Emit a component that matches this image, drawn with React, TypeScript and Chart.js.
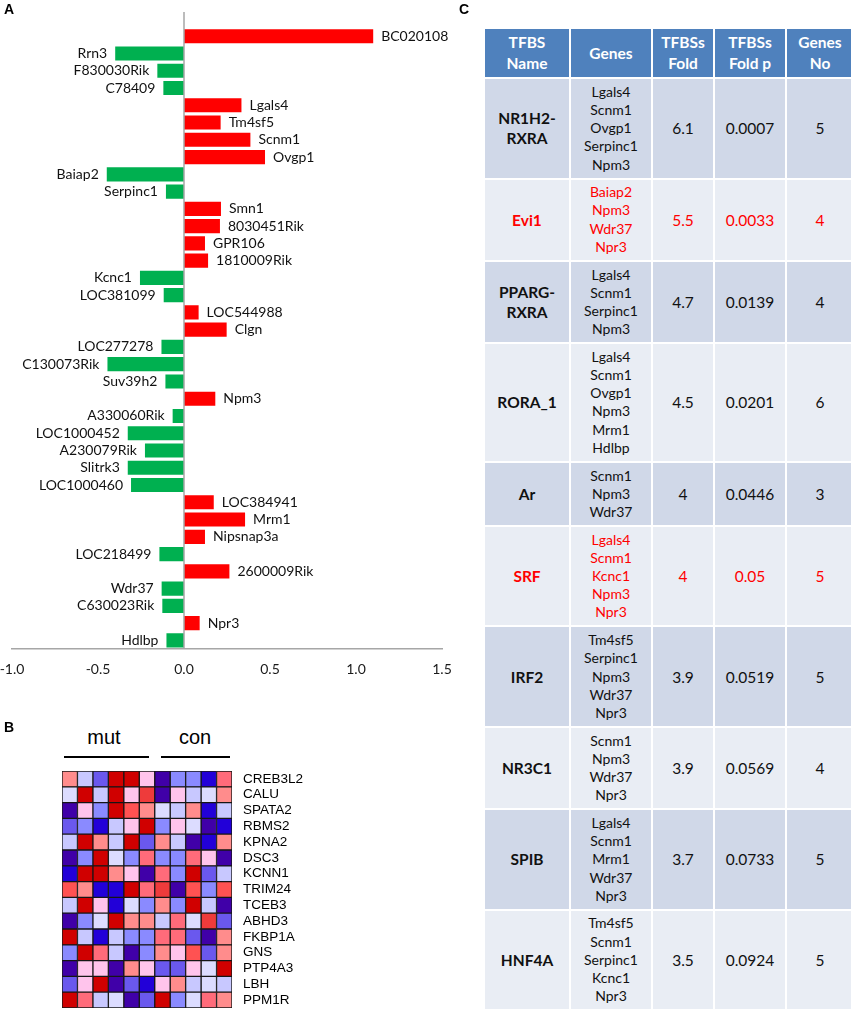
import React, { useEffect, useRef } from 'react';
import { Chart, registerables } from 'chart.js';
Chart.register(...registerables);

// ---------- Panel A data ----------
const genes = [
  'BC020108', 'Rrn3', 'F830030Rik', 'C78409', 'Lgals4', 'Tm4sf5', 'Scnm1', 'Ovgp1',
  'Baiap2', 'Serpinc1', 'Smn1', '8030451Rik', 'GPR106', '1810009Rik', 'Kcnc1', 'LOC381099',
  'LOC544988', 'Clgn', 'LOC277278', 'C130073Rik', 'Suv39h2', 'Npm3', 'A330060Rik', 'LOC1000452',
  'A230079Rik', 'Slitrk3', 'LOC1000460', 'LOC384941', 'Mrm1', 'Nipsnap3a', 'LOC218499', '2600009Rik',
  'Wdr37', 'C630023Rik', 'Npr3', 'Hdlbp',
];
const logFold = [
  1.10, -0.40, -0.155, -0.12, 0.334, 0.213, 0.386, 0.471,
  -0.449, -0.105, 0.215, 0.209, 0.122, 0.14, -0.256, -0.118,
  0.085, 0.248, -0.131, -0.445, -0.108, 0.182, -0.066, -0.327,
  -0.227, -0.327, -0.308, 0.173, 0.355, 0.122, -0.143, 0.264,
  -0.13, -0.126, 0.091, -0.102,
];
const xTicks = [-1.0, -0.5, 0.0, 0.5, 1.0, 1.5];

// ---------- Panel B data ----------
const heatGenes = [
  'CREB3L2', 'CALU', 'SPATA2', 'RBMS2', 'KPNA2', 'DSC3', 'KCNN1', 'TRIM24',
  'TCEB3', 'ABHD3', 'FKBP1A', 'GNS', 'PTP4A3', 'LBH', 'PPM1R',
];
const heatSamples = ['mut1', 'mut2', 'mut3', 'mut4', 'mut5', 'mut6', 'con1', 'con2', 'con3', 'con4', 'con5'];
const heatValues = [
  [1.0, -0.5, -1.4, 2.0, 2.0, 0.4, -2.0, -1.0, -1.0, -1.8, 1.2],
  [-0.3, 2.0, -0.5, 2.0, 0.4, 1.6, -2.0, 0.4, -0.5, -0.3, 1.0],
  [-2.0, 0.4, -1.0, 2.0, 1.4, 1.0, -0.3, -0.5, 1.0, -1.8, -0.5],
  [-1.4, -1.0, -1.8, -0.5, 0.4, 2.0, -1.0, 0.4, -0.3, -2.0, -1.8],
  [-0.5, 2.0, 1.0, -0.5, 2.0, -1.4, 1.0, -0.5, -2.0, -1.8, 1.0],
  [-2.0, -1.0, 2.0, -0.3, -1.0, 1.2, -1.0, -1.0, 1.2, 0.4, -2.0],
  [-1.8, 2.0, 2.0, 1.0, 0.4, -2.0, 1.2, -1.0, 2.0, -1.4, -0.5],
  [1.4, 1.0, -1.8, -1.8, 2.0, 1.2, 1.6, -2.0, 1.4, -1.0, 1.4],
  [-0.5, 2.0, 0.4, -1.8, -0.3, -1.0, 1.0, -1.0, 2.0, -0.5, -2.0],
  [-2.0, -1.0, -0.3, 2.0, 1.0, 1.0, -0.5, 1.2, -0.3, 1.6, -1.4],
  [2.0, -0.5, -1.8, -0.5, -1.0, -1.0, 1.2, 1.2, -1.4, -2.0, 1.0],
  [-1.0, 2.0, 1.2, -0.5, -2.0, -1.0, 1.0, 0.4, 1.4, -1.4, 1.0],
  [-2.0, 0.4, 0.4, -2.0, 1.0, 0.4, -1.4, -1.4, 0.4, -0.3, 2.0],
  [-1.4, 0.4, 2.0, -2.0, -1.4, -1.8, 0.4, 1.0, -0.5, -0.3, -0.5],
  [2.0, 1.2, -0.5, -0.3, -2.0, -1.4, 2.0, -1.0, -0.3, 1.2, 1.0],
];

// ---------- Panel C data ----------
const tfbsHeader = ['TFBS\nName', 'Genes', 'TFBSs\nFold', 'TFBSs\nFold p', 'Genes\nNo'];
const tfbsNames = ['NR1H2-\nRXRA', 'Evi1', 'PPARG-\nRXRA', 'RORA_1', 'Ar', 'SRF', 'IRF2', 'NR3C1', 'SPIB', 'HNF4A'];
const tfbsGenes = [
  ['Lgals4', 'Scnm1', 'Ovgp1', 'Serpinc1', 'Npm3'],
  ['Baiap2', 'Npm3', 'Wdr37', 'Npr3'],
  ['Lgals4', 'Scnm1', 'Serpinc1', 'Npm3'],
  ['Lgals4', 'Scnm1', 'Ovgp1', 'Npm3', 'Mrm1', 'Hdlbp'],
  ['Scnm1', 'Npm3', 'Wdr37'],
  ['Lgals4', 'Scnm1', 'Kcnc1', 'Npm3', 'Npr3'],
  ['Tm4sf5', 'Serpinc1', 'Npm3', 'Wdr37', 'Npr3'],
  ['Scnm1', 'Npm3', 'Wdr37', 'Npr3'],
  ['Lgals4', 'Scnm1', 'Mrm1', 'Wdr37', 'Npr3'],
  ['Tm4sf5', 'Scnm1', 'Serpinc1', 'Kcnc1', 'Npr3'],
];
const tfbsFold = ['6.1', '5.5', '4.7', '4.5', '4', '4', '3.9', '3.9', '3.7', '3.5'];
const tfbsP = ['0.0007', '0.0033', '0.0139', '0.0201', '0.0446', '0.05', '0.0519', '0.0569', '0.0733', '0.0924'];
const tfbsGenesNo = ['5', '4', '4', '6', '3', '5', '5', '4', '5', '5'];
const tfbsHighlight = [false, true, false, false, false, true, false, false, false, false];

// ---------- helpers ----------
const heatStops: [number, string][] = [
  [2.0, '#D00000'],
  [1.6, '#EE3B3B'],
  [1.4, '#FF5252'],
  [1.2, '#FF6B7A'],
  [1.0, '#FF8C8C'],
  [0.4, '#FFC4EC'],
  [-0.3, '#DCDCFF'],
  [-0.5, '#C8C8FF'],
  [-1.0, '#8A8AFF'],
  [-1.4, '#6A58EE'],
  [-1.8, '#2200D8'],
  [-2.0, '#4000A8'],
];
function heatColor(v: number): string {
  let best = heatStops[0];
  for (const s of heatStops) if (Math.abs(s[0] - v) < Math.abs(best[0] - v)) best = s;
  return best[1];
}

const LATO = 'Lato, "Open Sans", sans-serif';

function BarPanel() {
  const ref = useRef<HTMLCanvasElement>(null);
  useEffect(() => {
    const zeroLine = {
      id: 'zeroLine',
      afterDatasetsDraw(chart: any) {
        const ctx = chart.ctx;
        const x = chart.scales.x.getPixelForValue(0);
        ctx.save();
        ctx.strokeStyle = '#A6A6A6';
        ctx.lineWidth = 1.5;
        ctx.beginPath();
        ctx.moveTo(x, 12);
        ctx.lineTo(x, chart.chartArea.bottom);
        ctx.stroke();
        const meta = chart.getDatasetMeta(0);
        ctx.font = `14px ${LATO}`;
        ctx.fillStyle = '#111';
        ctx.textBaseline = 'middle';
        meta.data.forEach((el: any, i: number) => {
          const p = el.getProps(['x', 'y'], true);
          if (logFold[i] >= 0) {
            ctx.textAlign = 'left';
            ctx.fillText(genes[i], p.x + 8, p.y);
          } else {
            ctx.textAlign = 'right';
            ctx.fillText(genes[i], p.x - 8, p.y);
          }
        });
        ctx.restore();
      },
    };
    const chart = new Chart(ref.current!, {
      type: 'bar',
      data: {
        labels: genes,
        datasets: [
          {
            data: logFold,
            backgroundColor: logFold.map((v) => (v >= 0 ? '#FF0000' : '#00B050')),
            barPercentage: 0.82,
            categoryPercentage: 1,
            borderWidth: 0,
          },
        ],
      },
      options: {
        indexAxis: 'y',
        animation: false,
        responsive: true,
        maintainAspectRatio: false,
        layout: { padding: { left: 12, right: 28, top: 27.6, bottom: 0 } },
        plugins: { legend: { display: false }, tooltip: { enabled: false } },
        scales: {
          x: {
            min: xTicks[0],
            max: xTicks[xTicks.length - 1],
            grid: { display: false, drawTicks: false },
            border: { display: true, color: '#A6A6A6', width: 1.5 },
            ticks: {
              stepSize: xTicks[1] - xTicks[0],
              padding: 12.5,
              color: '#1a1a1a',
              font: { family: LATO, size: 14 },
              callback: (v: any) => Number(v).toFixed(1),
            },
            afterFit: (scale: any) => {
              scale.height = 51;
              scale.paddingLeft = 0;
              scale.paddingRight = 0;
            },
          },
          y: { display: false },
        },
      },
      plugins: [zeroLine],
    } as any);
    return () => chart.destroy();
  }, []);
  return (
    <div style={{ position: 'absolute', left: 0, top: 0, width: 470, height: 700 }}>
      <canvas ref={ref} />
    </div>
  );
}

function HeatPanel() {
  const ref = useRef<HTMLCanvasElement>(null);
  useEffect(() => {
    const chart = new Chart(ref.current!, {
      type: 'bar',
      data: {
        labels: heatGenes,
        datasets: heatSamples.map((s, j) => ({
          label: s,
          data: heatGenes.map(() => 1),
          backgroundColor: heatValues.map((row) => heatColor(row[j])),
          borderColor: '#161616',
          borderWidth: 1,
          borderSkipped: false,
          barPercentage: 1,
          categoryPercentage: 1,
        })),
      },
      options: {
        indexAxis: 'y',
        animation: false,
        responsive: true,
        maintainAspectRatio: false,
        layout: { padding: { left: 12, right: 0, top: 6, bottom: 2 } },
        plugins: { legend: { display: false }, tooltip: { enabled: false } },
        scales: {
          x: { stacked: true, display: false, min: 0, max: heatSamples.length },
          y: {
            stacked: true,
            position: 'right',
            grid: { display: false, drawTicks: false },
            border: { display: false },
            ticks: {
              autoSkip: false,
              padding: 11,
              color: '#000',
              font: { family: '"Liberation Sans", Arial, sans-serif', size: 13.5 },
            },
            afterFit: (scale: any) => {
              scale.width = 98;
              scale.paddingTop = 0;
              scale.paddingBottom = 0;
            },
          },
        },
      },
    } as any);
    return () => chart.destroy();
  }, []);
  return (
    <div style={{ position: 'absolute', left: 50, top: 765, width: 280, height: 245 }}>
      <canvas ref={ref} />
    </div>
  );
}

function TablePanel() {
  const colW = [84, 80, 60, 70, 66];
  const colX = [485, 571, 653, 715, 787];
  const headerTop = 29;
  const headerH = 48;
  const rowH = (n: number) => 18.2 * n + 7.5;
  const rows: JSX.Element[] = [];
  let y = headerTop + headerH + 2;
  const cellBase: React.CSSProperties = {
    position: 'absolute',
    display: 'flex',
    alignItems: 'center',
    justifyContent: 'center',
    textAlign: 'center',
    whiteSpace: 'pre-line',
    fontFamily: LATO,
  };
  tfbsHeader.forEach((h, c) => {
    rows.push(
      <div
        key={'h' + c}
        style={{
          ...cellBase,
          left: colX[c],
          top: headerTop,
          width: colW[c],
          height: headerH,
          background: '#4F81BD',
          color: '#fff',
          fontWeight: 700,
          fontSize: 15.5,
          lineHeight: '21px',
        }}
      >
        {h}
      </div>
    );
  });
  tfbsNames.forEach((name, r) => {
    const h = rowH(tfbsGenes[r].length);
    const bg = r % 2 === 0 ? '#D0D8E8' : '#E9EDF4';
    const color = tfbsHighlight[r] ? '#FF0000' : '#111';
    const cells = [name, tfbsGenes[r].join('\n'), tfbsFold[r], tfbsP[r], tfbsGenesNo[r]];
    cells.forEach((txt, c) => {
      rows.push(
        <div
          key={r + '-' + c}
          style={{
            ...cellBase,
            left: colX[c],
            top: y,
            width: colW[c],
            height: h,
            background: bg,
            color,
            fontWeight: c === 0 ? 700 : 400,
            fontSize: c === 1 ? 14 : 15.5,
            lineHeight: c === 1 ? '18.2px' : '20px',
          }}
        >
          {txt}
        </div>
      );
    });
    y += h + 2;
  });
  return <>{rows}</>;
}

export default function App() {
  const letter: React.CSSProperties = {
    position: 'absolute',
    fontFamily: '"Liberation Sans", Arial, sans-serif',
    fontWeight: 700,
    fontSize: 14,
    lineHeight: '14px',
    color: '#000',
  };
  const groupText: React.CSSProperties = {
    position: 'absolute',
    fontFamily: '"Liberation Sans", Arial, sans-serif',
    fontSize: 20,
    lineHeight: '20px',
    color: '#000',
    textAlign: 'center',
  };
  return (
    <div
      style={{
        position: 'absolute',
        left: 0,
        top: 0,
        width: 851,
        height: 1010,
        overflow: 'hidden',
        background: '#fff',
      }}
    >
      <BarPanel />
      <HeatPanel />
      <TablePanel />
      <div style={{ ...letter, left: 4, top: 2 }}>A</div>
      <div style={{ ...letter, left: 4, top: 720 }}>B</div>
      <div style={{ ...letter, left: 459, top: 2 }}>C</div>
      <div style={{ ...groupText, left: 74, top: 727, width: 60 }}>mut</div>
      <div style={{ ...groupText, left: 165, top: 727, width: 60 }}>con</div>
      <div style={{ position: 'absolute', left: 64, top: 756, width: 85, height: 2, background: '#000' }} />
      <div style={{ position: 'absolute', left: 161, top: 756, width: 69, height: 2, background: '#000' }} />
    </div>
  );
}
